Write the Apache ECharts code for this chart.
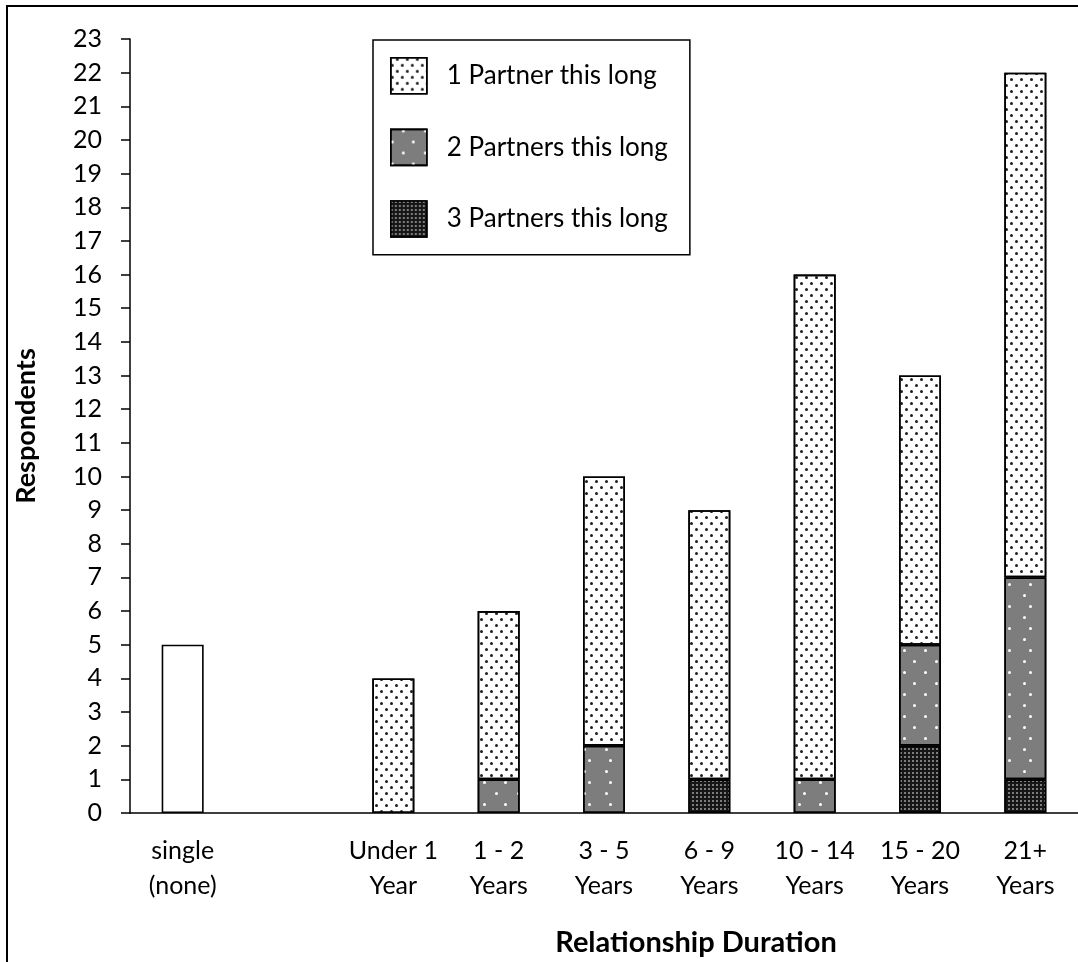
<!DOCTYPE html>
<html>
<head>
<meta charset="utf-8">
<script src="https://cdn.jsdelivr.net/npm/echarts@6/dist/echarts.min.js"></script>
<style>
html,body{margin:0;padding:0;background:#fff;}
#chart{width:1078px;height:962px;}
</style>
</head>
<body>
<div id="chart"></div>
<script>
const categories = ['single\n(none)', '', 'Under 1\nYear', '1 - 2\nYears', '3 - 5\nYears', '6 - 9\nYears', '10 - 14\nYears', '15 - 20\nYears', '21+\nYears'];
const singleValues = [5, '-', '-', '-', '-', '-', '-', '-', '-'];
const onePartner = ['-', '-', 4, 5, 8, 8, 15, 8, 15];
const twoPartners = ['-', '-', '-', 1, 2, '-', 1, 3, 6];
const threePartners = ['-', '-', '-', '-', '-', 1, '-', 2, 1];
const yTicks = {min: 0, max: 23, interval: 1};

const FONT = 'Lato';
const chart = echarts.init(document.getElementById('chart'));
const border = {borderColor: '#000', borderWidth: 1.6};

chart.setOption({
  animation: false,
  backgroundColor: '#fff',
  textStyle: {fontFamily: FONT, color: '#000'},
  graphic: [{
    type: 'rect', z: -10,
    shape: {x: 7, y: 6, width: 1200, height: 1200},
    style: {fill: 'none', stroke: '#000', lineWidth: 2}
  }],
  grid: {left: 130, top: 39, width: 957, height: 775, containLabel: false},
  legend: {
    orient: 'vertical', left: 373, top: 40,
    padding: [17, 22, 17, 17],
    itemWidth: 36, itemHeight: 36, itemGap: 34,
    icon: 'rect',
    borderColor: '#000', borderWidth: 1.5,
    itemStyle: {borderColor: '#000', borderWidth: 1.6},
    textStyle: {fontFamily: FONT, fontSize: 26, color: '#000', padding: [0, 0, 0, 15]},
    data: ['1 Partner this long', '2 Partners this long', '3 Partners this long']
  },
  xAxis: {
    type: 'category', data: categories,
    axisLine: {lineStyle: {color: '#000', width: 1.5}},
    axisTick: {show: false},
    axisLabel: {fontFamily: FONT, fontSize: 25, color: '#000', lineHeight: 35, margin: 20, interval: 0},
    name: 'Relationship Duration', nameLocation: 'middle', nameGap: 115,
    nameTextStyle: {fontFamily: FONT, fontSize: 29, fontWeight: 'bold', color: '#000', padding: [0, 0, 0, 184]}
  },
  yAxis: {
    type: 'value', min: yTicks.min, max: yTicks.max, interval: yTicks.interval,
    splitLine: {show: false},
    axisLine: {show: true, lineStyle: {color: '#000', width: 1.5}},
    axisTick: {show: true, length: 9, lineStyle: {color: '#000', width: 1.5}},
    axisLabel: {fontFamily: FONT, fontSize: 25, color: '#000', margin: 28},
    name: 'Respondents', nameLocation: 'middle', nameGap: 90,
    nameTextStyle: {fontFamily: FONT, fontSize: 27, fontWeight: 'bold', color: '#000'}
  },
  series: [
    {name: 'single', type: 'bar', stack: 's', barWidth: 42, data: singleValues,
     itemStyle: Object.assign({color: '#fff'}, border)},
    {name: '3 Partners this long', type: 'bar', stack: 's', barWidth: 42, data: threePartners,
     itemStyle: Object.assign({color: '#161616', decal: {symbol: 'circle', symbolSize: 1, color: '#a0a0a0', dashArrayX: [2, 1.6], dashArrayY: [2, 1.6]}}, border)},
    {name: '2 Partners this long', type: 'bar', stack: 's', barWidth: 42, data: twoPartners,
     itemStyle: Object.assign({color: '#7d7d7d', decal: {symbol: 'circle', symbolSize: 1, color: '#ffffff', dashArrayX: [[3, 18], [0, 10.5, 3, 7.5]], dashArrayY: [3, 8]}}, border)},
    {name: '1 Partner this long', type: 'bar', stack: 's', barWidth: 42, data: onePartner,
     itemStyle: Object.assign({color: '#ffffff', decal: {symbol: 'circle', symbolSize: 1, color: '#1e1e1e', dashArrayX: [[3, 7], [0, 5, 3, 2]], dashArrayY: [3, 2.4]}}, border)}
  ]
});
</script>
</body>
</html>
